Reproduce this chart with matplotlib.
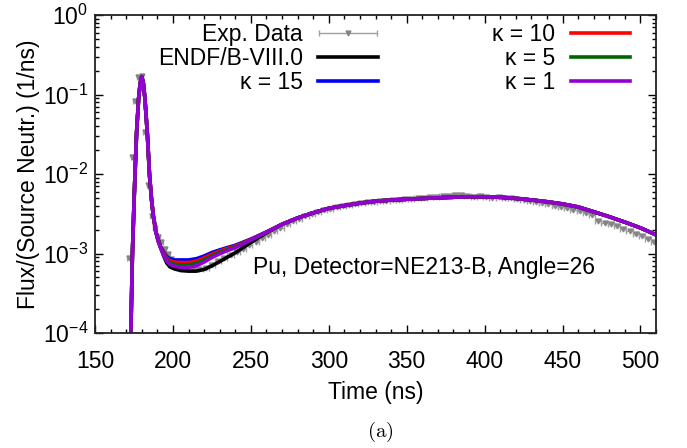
import numpy as np
import matplotlib
matplotlib.use("Agg")
import matplotlib.pyplot as plt
from matplotlib.ticker import MultipleLocator, LogLocator
from matplotlib.legend_handler import HandlerErrorbar

plt.rcParams['font.family'] = ['Liberation Sans', 'DejaVu Sans']
plt.rcParams['mathtext.fontset'] = 'custom'
plt.rcParams['mathtext.rm'] = 'Liberation Sans'
plt.rcParams['mathtext.it'] = 'Liberation Sans:italic'
plt.rcParams['mathtext.bf'] = 'Liberation Sans:bold'

FS = 16.5

# experimental data (2 ns bins around the peak, every other bin after)
t_exp_peak = [171.8, 173.9, 175.6, 177.7, 179.9, 182.0, 184.2, 186.3,
              188.4, 190.5, 192.6, 194.7, 196.8, 198.9]
flux_exp_peak = [8.8e-4, 0.0165, 0.083, 0.165, 0.172, 0.034, 0.0072, 3.0e-3,
                 2.1e-3, 1.6e-3, 1.4e-3, 1.15e-3, 1.0e-3, 8.5e-4]
t_exp_tail = np.arange(201, 510, 4)
flux_exp_tail = [7.5e-4, 7.0e-4, 6.6e-4, 6.3e-4, 6.3e-4, 6.6e-4, 7.2e-4, 8.0e-4,
                 8.8e-4, 9.6e-4, 1.05e-3, 1.15e-3, 1.27e-3, 1.4e-3, 1.55e-3, 1.72e-3,
                 1.9e-3, 2.1e-3, 2.35e-3, 2.55e-3, 2.75e-3, 2.95e-3, 3.1e-3, 3.3e-3,
                 3.5e-3, 3.65e-3, 3.82e-3, 3.95e-3, 4.05e-3, 4.2e-3, 4.3e-3, 4.4e-3,
                 4.45e-3, 4.6e-3, 4.62e-3, 4.72e-3, 4.7e-3, 4.85e-3, 4.82e-3, 5.0e-3,
                 4.95e-3, 5.15e-3, 5.1e-3, 5.25e-3, 5.3e-3, 5.4e-3, 5.5e-3, 5.35e-3,
                 5.2e-3, 5.25e-3, 5.2e-3, 5.05e-3, 5.1e-3, 4.95e-3, 5.05e-3, 4.85e-3,
                 4.7e-3, 4.55e-3, 4.4e-3, 4.3e-3, 4.15e-3, 4.0e-3, 3.85e-3, 3.7e-3,
                 3.55e-3, 3.45e-3, 3.25e-3, 3.05e-3, 2.6e-3, 2.45e-3, 2.35e-3, 2.2e-3,
                 2.05e-3, 1.9e-3, 1.75e-3, 1.65e-3, 1.52e-3, 1.4e-3]

# simulations: common peak, per-model dip, common tail
t_peak = [172, 173, 174, 175.2, 176, 176.7, 178, 179, 180, 181, 182,
          183.5, 185, 186.3, 187.4, 189]
flux_peak = [4e-5, 1e-4, 1e-3, 5.5e-3, 0.015, 0.034, 0.09, 0.14, 0.168, 0.14, 0.09,
             0.034, 0.0095, 4.7e-3, 3.0e-3, 1.9e-3]

t_dip = [190.5, 192, 194, 196, 198, 201, 205, 210, 215, 220, 225, 230, 235, 240, 250, 260]
dip_endf = [1.5e-3, 1.2e-3, 9.4e-4, 7.6e-4, 6.8e-4, 6.4e-4, 6.1e-4, 6.0e-4,
            6.0e-4, 6.3e-4, 7.0e-4, 7.9e-4, 9.0e-4, 1.02e-3, 1.38e-3, 1.82e-3]
dip_k15 = [1.45e-3, 1.24e-3, 1.05e-3, 9.2e-4, 8.6e-4, 8.3e-4, 8.3e-4, 8.3e-4,
           8.6e-4, 9.3e-4, 1.03e-3, 1.11e-3, 1.19e-3, 1.27e-3, 1.52e-3, 1.86e-3]
dip_k10 = [1.45e-3, 1.22e-3, 1.02e-3, 8.8e-4, 8.1e-4, 7.8e-4, 7.7e-4, 7.7e-4,
           8.0e-4, 8.8e-4, 9.8e-4, 1.07e-3, 1.16e-3, 1.24e-3, 1.5e-3, 1.86e-3]
dip_k5 = [1.45e-3, 1.2e-3, 9.9e-4, 8.4e-4, 7.7e-4, 7.3e-4, 7.2e-4, 7.2e-4,
          7.5e-4, 8.3e-4, 9.3e-4, 1.03e-3, 1.12e-3, 1.21e-3, 1.49e-3, 1.86e-3]
dip_k1 = [1.45e-3, 1.18e-3, 9.6e-4, 8.0e-4, 7.3e-4, 6.9e-4, 6.7e-4, 6.7e-4,
          7.0e-4, 7.8e-4, 8.9e-4, 9.9e-4, 1.09e-3, 1.18e-3, 1.48e-3, 1.86e-3]

t_tail = [270, 280, 290, 300, 310, 320, 330, 340, 350, 360, 370, 380, 390,
          400, 410, 420, 430, 440, 450, 460, 470, 480, 490, 500, 510]
flux_tail = [2.33e-3, 2.8e-3, 3.25e-3, 3.7e-3, 4.0e-3, 4.3e-3, 4.55e-3, 4.7e-3,
             4.82e-3, 4.92e-3, 5.02e-3, 5.1e-3, 5.17e-3, 5.17e-3, 5.1e-3, 4.93e-3,
             4.72e-3, 4.48e-3, 4.2e-3, 3.85e-3, 3.35e-3, 2.9e-3, 2.48e-3, 2.1e-3, 1.72e-3]

models = [
    ("ENDF/B-VIII.0", dip_endf, "black"),
    ("κ = 15", dip_k15, "#0000ff"),
    ("κ = 10", dip_k10, "#ff0000"),
    ("κ = 5", dip_k5, "#006400"),
    ("κ = 1", dip_k1, "#9400d3"),
]

fig = plt.figure(figsize=(6.87, 4.48), dpi=100)
ax = fig.add_axes([0.1383, 0.2567, 0.8166, 0.7098])

t_exp = np.concatenate([t_exp_peak, t_exp_tail])
flux_exp = np.concatenate([flux_exp_peak, flux_exp_tail])
xerr = np.concatenate([np.full(len(t_exp_peak), 1.05), np.full(len(t_exp_tail), 2.0)])
exp_h = ax.errorbar(t_exp, flux_exp, xerr=xerr, fmt='v', color='#858585', ecolor='#a0a0a0',
                    ms=3.5, elinewidth=1, capsize=2, label='Exp. Data', zorder=1)

handles = [exp_h]
t_model = np.concatenate([t_peak, t_dip, t_tail])
for name, dip, col in models:
    flux = np.concatenate([flux_peak, dip, flux_tail])
    ln, = ax.plot(t_model, flux, color=col, lw=2.6, label=name, zorder=2)
    handles.append(ln)

ax.set_yscale('log')
ax.set_xlim(150, 510)
ax.set_ylim(1e-4, 1)
ax.xaxis.set_major_locator(MultipleLocator(50))
ax.xaxis.set_minor_locator(MultipleLocator(10))
ax.yaxis.set_major_locator(LogLocator(base=10))
ax.yaxis.set_minor_locator(LogLocator(base=10, subs=np.arange(2, 10)))
ax.tick_params(which='both', direction='in', top=True, right=True, labelsize=FS)
ax.tick_params(which='major', length=6, width=1)
ax.tick_params(which='minor', length=3, width=1)
ax.tick_params(axis='x', pad=12)
ax.tick_params(axis='y', pad=5)
for sp in ax.spines.values():
    sp.set_linewidth(1.3)
    sp.set_color('#222222')

ax.set_xlabel('Time (ns)', fontsize=FS, labelpad=6)
ax.set_ylabel('Flux/(Source Neutr.) (1/ns)', fontsize=FS, labelpad=2)

ax.text(361, 6.6e-4, 'Pu, Detector=NE213-B, Angle=26', fontsize=FS,
        ha='center', va='center')

ax.legend(handles=handles, ncol=2, markerfirst=False, frameon=False, fontsize=FS,
          loc='upper right', bbox_to_anchor=(0.954, 0.975),
          handlelength=2.6, handletextpad=0.67, columnspacing=5.0,
          labelspacing=0.05, borderaxespad=0, borderpad=0,
          handler_map={type(exp_h): HandlerErrorbar(xerr_size=1.25)})

fig.text(0.553, 0.035, r'$\mathrm{(a)}$', fontsize=15, ha='center', va='center',
         math_fontfamily='cm')

fig.savefig('out.png', dpi=100)
